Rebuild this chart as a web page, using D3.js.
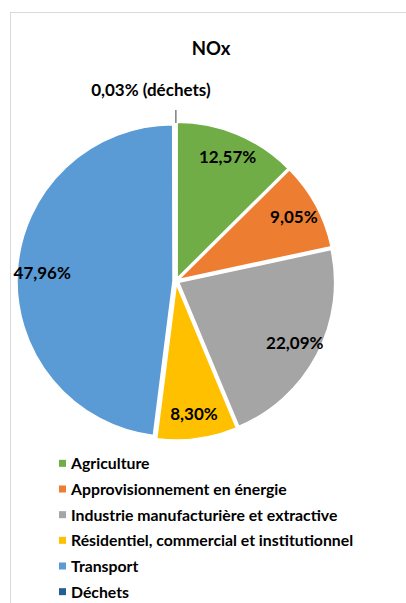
<!DOCTYPE html>
<html lang="fr">
<head>
<meta charset="utf-8">
<script src="https://cdn.jsdelivr.net/npm/d3@7"></script>
<style>
  html, body { margin: 0; padding: 0; background: #fff; }
  svg { display: block; font-family: Lato, "Open Sans", sans-serif; }
</style>
</head>
<body>
<svg id="chart" width="406" height="603"></svg>
<script>
// NOx emissions by sector (share of total, %)
const categories = [
  "Agriculture",
  "Approvisionnement en énergie",
  "Industrie manufacturière et extractive",
  "Résidentiel, commercial et institutionnel",
  "Transport",
  "Déchets"
];
const shares = [12.57, 9.05, 22.09, 8.30, 47.96, 0.03];
const colors = ["#70AD47", "#ED7D31", "#A5A5A5", "#FFC000", "#5B9BD5", "#255E91"];
const title = "NOx";
const smallSliceNote = "(déchets)";

const W = 406, H = 603;
const cx = 176, cy = 281, radius = 156, explode = 3;

const svg = d3.select("#chart");

// chart frame
svg.append("rect")
  .attr("x", 10.5).attr("y", 12.5)
  .attr("width", W).attr("height", H)
  .attr("fill", "#fff")
  .attr("stroke", "#d9d9d9")
  .attr("stroke-width", 1);

// title
svg.append("text")
  .attr("x", 211).attr("y", 55)
  .attr("text-anchor", "middle")
  .attr("font-size", 18.5)
  .attr("font-weight", 700)
  .attr("fill", "#000")
  .text(title);

const fr = d3.formatLocale({ decimal: ",", thousands: " ", grouping: [3], currency: ["", " €"] });
const fmt = v => fr.format(".2f")(v) + "%";

const data = categories.map((c, i) => ({ name: c, value: shares[i], color: colors[i] }));

const pie = d3.pie().sort(null).value(d => d.value);
const arcs = pie(data);

const arc = d3.arc().innerRadius(0).outerRadius(radius);
const labelArc = d3.arc().innerRadius(radius * 0.84).outerRadius(radius * 0.84);

const g = svg.append("g").attr("transform", `translate(${cx},${cy})`);

const slices = g.selectAll("g.slice")
  .data(arcs)
  .join("g")
  .attr("class", "slice")
  .attr("transform", d => {
    const a = (d.startAngle + d.endAngle) / 2;
    return `translate(${explode * Math.sin(a)},${-explode * Math.cos(a)})`;
  });

slices.append("path")
  .attr("d", arc)
  .attr("fill", d => d.data.color)
  .attr("stroke", "#fff")
  .attr("stroke-width", 1.5)
  .attr("stroke-linejoin", "round");

// labels inside the visible slices
slices.filter(d => d.data.value >= 1)
  .append("text")
  .attr("transform", d => `translate(${labelArc.centroid(d)})`)
  .attr("text-anchor", "middle")
  .attr("dy", "0.35em")
  .attr("font-size", 17)
  .attr("font-weight", 700)
  .attr("fill", "#000")
  .text(d => fmt(d.data.value));

// tiny slice: label above the pie with a leader line
const tiny = arcs.filter(d => d.data.value < 1);
tiny.forEach(d => {
  const a = (d.startAngle + d.endAngle) / 2;
  const x0 = (radius + 2) * Math.sin(a), y0 = -(radius + 2) * Math.cos(a);
  g.append("line")
    .attr("x1", x0).attr("y1", y0)
    .attr("x2", x0).attr("y2", y0 - 13)
    .attr("stroke", "#7f7f7f")
    .attr("stroke-width", 1.5);
  g.append("text")
    .attr("x", x0 - 25).attr("y", y0 - 27)
    .attr("text-anchor", "middle")
    .attr("font-size", 17)
    .attr("font-weight", 700)
    .attr("fill", "#000")
    .text(fmt(d.data.value) + " " + smallSliceNote);
});

// legend
const legendY = d3.scaleBand().domain(categories).range([451, 605]).paddingInner(0);
const legend = svg.append("g").attr("class", "legend");
const items = legend.selectAll("g")
  .data(data)
  .join("g")
  .attr("transform", d => `translate(59,${legendY(d.name) + legendY.bandwidth() / 2})`);

items.append("rect")
  .attr("x", 0).attr("y", -4)
  .attr("width", 7).attr("height", 7)
  .attr("fill", d => d.color);

items.append("text")
  .attr("x", 12)
  .attr("dy", "0.35em")
  .attr("font-size", 15.8)
  .attr("font-weight", 700)
  .attr("fill", "#000")
  .text(d => d.name);
</script>
</body>
</html>
